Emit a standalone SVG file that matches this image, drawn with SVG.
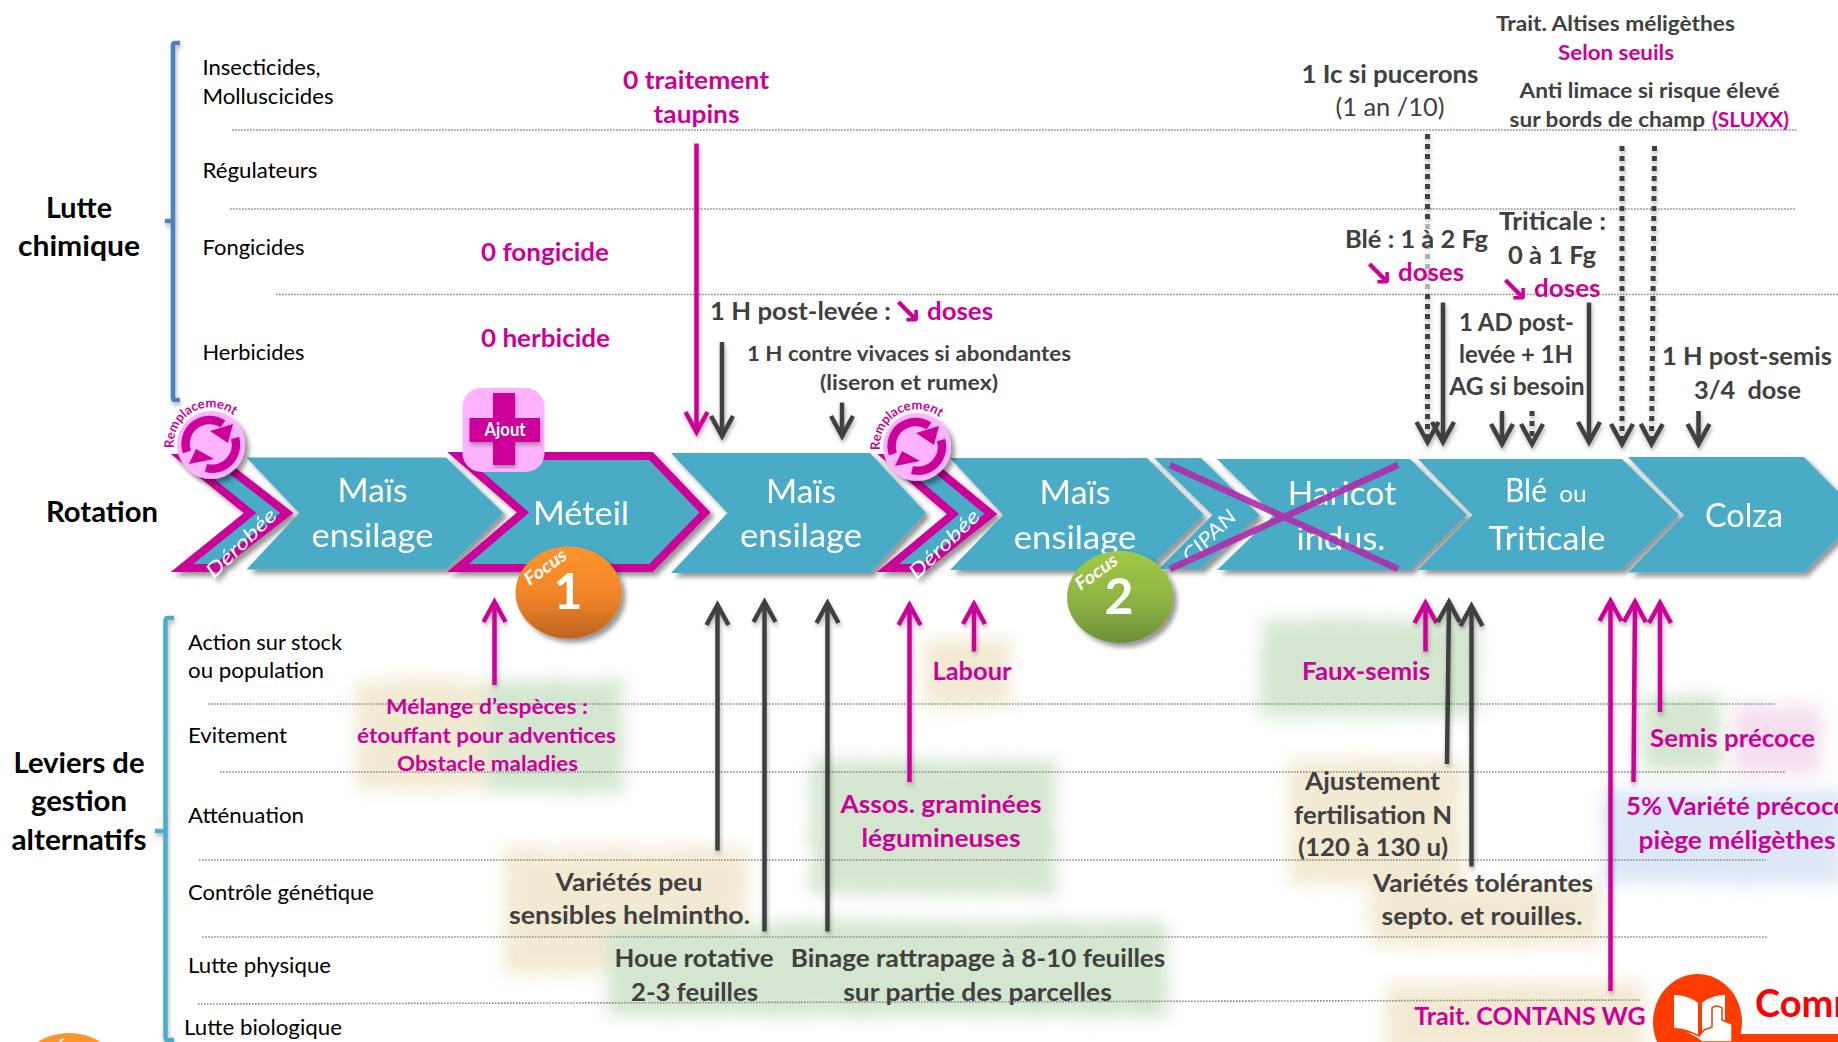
<svg xmlns="http://www.w3.org/2000/svg" xmlns:xlink="http://www.w3.org/1999/xlink" width="1838" height="1042" viewBox="0 0 1838 1042">
<style>
text{font-family:"Lato","Carlito","Open Sans",sans-serif}
.lab{font-size:21.6px;fill:#000}
.head{font-size:28px;font-weight:700;fill:#000;text-anchor:middle}
.d{font-weight:700;fill:#404040;text-anchor:middle}
.m{font-weight:700;fill:#cc0099;text-anchor:middle}
.s{font-size:21.6px}.l{font-size:25px}
.st{text-anchor:start}
.w{fill:#fff;font-size:33px;text-anchor:middle}
.sym{font-family:"DejaVu Sans",sans-serif;font-weight:700;fill:#cc0099;font-size:36px;text-anchor:start}
.it{fill:#fff;font-style:italic;font-size:20px;font-weight:400;text-anchor:middle}
.fo{fill:#fff;font-style:italic;font-weight:700;font-size:18px;text-anchor:middle}
.num{fill:#fff;font-weight:700;font-size:50px;text-anchor:middle}
.chev{fill:#4aabc6}
.chevm{fill:#4aabc6;stroke:#cc0099;stroke-width:8;stroke-linejoin:miter;stroke-miterlimit:10}
.dot{stroke:#8a8a8a;stroke-width:1.6;stroke-dasharray:1.6 1.4;fill:none}
.am{stroke:#cc0099;stroke-width:4.5;fill:none;marker-end:url(#hm)}
.ak{stroke:#404040;stroke-width:4.5;fill:none;marker-end:url(#hk)}
.ad{stroke:#404040;stroke-width:5;stroke-dasharray:5 5;fill:none;marker-end:url(#hk)}
.tan{fill:#efe4c6}.gre{fill:#c8e0c2}.pin{fill:#f3d5ea}.blu{fill:#d3e1f5}
</style>
<defs>
<marker id="hm" markerUnits="userSpaceOnUse" markerWidth="34" markerHeight="34" refX="24" refY="14" orient="auto"><path d="M4 3 L24 14 L4 25" fill="none" stroke="#cc0099" stroke-width="4.5"/></marker>
<marker id="hk" markerUnits="userSpaceOnUse" markerWidth="34" markerHeight="34" refX="24" refY="14" orient="auto"><path d="M4 3 L24 14 L4 25" fill="none" stroke="#404040" stroke-width="4.5"/></marker>
<filter id="sh" x="-20%" y="-20%" width="140%" height="140%"><feDropShadow dx="4" dy="4" stdDeviation="2.5" flood-color="#000" flood-opacity=".42"/></filter>
<filter id="sa" x="-50%" y="-5%" width="200%" height="110%"><feDropShadow dx="1" dy="3" stdDeviation="2" flood-color="#000" flood-opacity=".3"/></filter>
<filter id="br" x="-15%" y="-20%" width="130%" height="140%"><feTurbulence type="fractalNoise" baseFrequency=".12" numOctaves="3" seed="4"/><feDisplacementMap in="SourceGraphic" scale="22" xChannelSelector="R" yChannelSelector="G"/><feGaussianBlur stdDeviation="8"/></filter>
<linearGradient id="gO" x1="0" y1="0" x2="0" y2="1"><stop offset="0" stop-color="#ff942f"/><stop offset=".55" stop-color="#f08527"/><stop offset="1" stop-color="#bd6320"/></linearGradient>
<linearGradient id="gG" x1="0" y1="0" x2="0" y2="1"><stop offset="0" stop-color="#a0ca47"/><stop offset=".55" stop-color="#8fb243"/><stop offset="1" stop-color="#6d8f39"/></linearGradient>
<path id="arcR" d="M-37 3 A37 37 0 0 1 30 -22"/>
</defs>

<g id="highlights" filter="url(#br)" opacity=".78">
<rect class="tan" x="356" y="680" width="136" height="110"/>
<rect class="gre" x="487" y="680" width="136" height="112"/>
<rect class="tan" x="503" y="848" width="244" height="126"/>
<rect class="gre" x="608" y="926" width="168" height="90"/>
<rect class="gre" x="768" y="921" width="399" height="96"/>
<rect class="gre" x="811" y="760" width="244" height="134"/>
<rect class="tan" x="924" y="640" width="86" height="67"/>
<rect class="gre" x="1261" y="620" width="216" height="96"/>
<rect class="tan" x="1289" y="760" width="174" height="124"/>
<rect class="tan" x="1368" y="884" width="232" height="62"/>
<rect class="gre" x="1644" y="696" width="76" height="74"/>
<rect class="pin" x="1734" y="706" width="88" height="68"/>
<rect class="blu" x="1603" y="790" width="240" height="94"/>
<rect class="tan" x="1385" y="983" width="259" height="72"/>
</g>

<g id="gridlines">
<line class="dot" x1="232" y1="130" x2="1798" y2="130"/>
<line class="dot" x1="230" y1="209" x2="1795" y2="209"/>
<line class="dot" x1="276" y1="294.5" x2="1838" y2="294.5"/>
<line class="dot" x1="208" y1="704" x2="1775" y2="704"/>
<line class="dot" x1="220" y1="772" x2="1785" y2="772"/>
<line class="dot" x1="199" y1="860" x2="1766" y2="860"/>
<line class="dot" x1="202" y1="937" x2="1767" y2="937"/>
<line class="dot" x1="198" y1="1004" x2="1640" y2="1000"/>
</g>

<g id="bracket-chimique" filter="url(#sa)"><path d="M180 43 H175 Q173 43 173 45 V398 Q173 400 175 400 H180 M173 221 H165" fill="none" stroke="#4f81bd" stroke-width="4.5"/></g>
<g id="bracket-leviers" filter="url(#sa)"><path d="M174 618 H168 Q165.500 618 165.500 621 V1037 Q165.500 1040 168 1040 H174 M165.500 831 H155" fill="none" stroke="#4bacc6" stroke-width="4.5"/></g>

<g id="row-labels">
<text class="lab" x="202.500" y="75" textLength="118" lengthAdjust="spacingAndGlyphs">Insecticides,</text>
<text class="lab" x="202.500" y="104" textLength="131" lengthAdjust="spacingAndGlyphs">Molluscicides</text>
<text class="lab" x="202.500" y="178" textLength="115" lengthAdjust="spacingAndGlyphs">Régulateurs</text>
<text class="lab" x="202.500" y="255" textLength="102" lengthAdjust="spacingAndGlyphs">Fongicides</text>
<text class="lab" x="202.500" y="360" textLength="102" lengthAdjust="spacingAndGlyphs">Herbicides</text>
<text class="lab" x="188" y="650" textLength="154" lengthAdjust="spacingAndGlyphs">Action sur stock</text>
<text class="lab" x="188" y="678" textLength="136" lengthAdjust="spacingAndGlyphs">ou population</text>
<text class="lab" x="188" y="743" textLength="99" lengthAdjust="spacingAndGlyphs">Evitement</text>
<text class="lab" x="188" y="823" textLength="116" lengthAdjust="spacingAndGlyphs">Atténuation</text>
<text class="lab" x="188" y="900" textLength="186" lengthAdjust="spacingAndGlyphs">Contrôle génétique</text>
<text class="lab" x="188" y="973" textLength="143" lengthAdjust="spacingAndGlyphs">Lutte physique</text>
<text class="lab" x="184" y="1035" textLength="158" lengthAdjust="spacingAndGlyphs">Lutte biologique</text>
<text class="head" x="79" y="218" textLength="66" lengthAdjust="spacingAndGlyphs">Lutte</text>
<text class="head" x="79" y="256" textLength="122" lengthAdjust="spacingAndGlyphs">chimique</text>
<text class="head" x="102" y="522" textLength="112" lengthAdjust="spacingAndGlyphs">Rotation</text>
<text class="head" x="79" y="773" textLength="131" lengthAdjust="spacingAndGlyphs">Leviers de</text>
<text class="head" x="79" y="811" textLength="96" lengthAdjust="spacingAndGlyphs">gestion</text>
<text class="head" x="79" y="850" textLength="135" lengthAdjust="spacingAndGlyphs">alternatifs</text>
</g>

<g id="chev-derobee1" filter="url(#sh)"><polygon class="chevm" points="182,458 216,458 287,513 216,568 182,568 250,513"/><text class="it" transform="translate(246 548) rotate(-44)" textLength="90" lengthAdjust="spacingAndGlyphs">Dérobée</text></g>
<g id="chev-mais1" filter="url(#sh)"><polygon class="chev" points="246.500,457.500 446,457.500 503.500,513 446,569.500 246.500,569.500 299,513"/><text class="w" x="372.500" y="502" textLength="70" lengthAdjust="spacingAndGlyphs">Maïs</text><text class="w" x="372.500" y="547" textLength="122" lengthAdjust="spacingAndGlyphs">ensilage</text></g>
<g id="chev-meteil" filter="url(#sh)"><polygon class="chevm" points="458,456 651,456 705,512.500 651,568 458,568 523,512.500"/><text class="w" x="581" y="525" textLength="96" lengthAdjust="spacingAndGlyphs">Méteil</text></g>
<g id="chev-mais2" filter="url(#sh)"><polygon class="chev" points="671,453 870,453 926,513 870,573 671,573 727.500,513"/><text class="w" x="801" y="503" textLength="70" lengthAdjust="spacingAndGlyphs">Maïs</text><text class="w" x="801" y="547" textLength="122" lengthAdjust="spacingAndGlyphs">ensilage</text></g>
<g id="chev-derobee2" filter="url(#sh)"><polygon class="chevm" points="888,458 923,458 991,514 923,568 888,568 953,514"/><text class="it" transform="translate(949 549) rotate(-44)" textLength="90" lengthAdjust="spacingAndGlyphs">Dérobée</text></g>
<g id="chev-mais3" filter="url(#sh)"><polygon class="chev" points="950,458 1147,458 1204,515 1147,570 950,570 1003,515"/><text class="w" x="1075" y="504" textLength="71" lengthAdjust="spacingAndGlyphs">Maïs</text><text class="w" x="1075" y="549" textLength="122.500" lengthAdjust="spacingAndGlyphs">ensilage</text></g>
<g id="chev-cipan" filter="url(#sh)"><polygon class="chev" points="1154,458 1201,458 1259.500,515 1201,569 1158.500,569 1212.500,515"/><text class="it" transform="translate(1214 541) rotate(-44)" textLength="66" lengthAdjust="spacingAndGlyphs">CIPAN</text></g>
<g id="chev-haricot" filter="url(#sh)"><polygon class="chev" points="1217,459 1410,459 1467,515 1410,570 1217,570 1274,515"/><text class="w" x="1342" y="505" textLength="108.500" lengthAdjust="spacingAndGlyphs">Haricot</text><text class="w" x="1341" y="549.500" textLength="89" lengthAdjust="spacingAndGlyphs">indus.</text></g>
<g id="chev-ble" filter="url(#sh)"><polygon class="chev" points="1418,459 1622,459 1679,515 1622,570 1418,570 1472.500,515"/><text class="w" x="1526" y="502" textLength="42" lengthAdjust="spacingAndGlyphs">Blé</text><text class="w" style="font-size:24px" x="1573" y="502" textLength="27.500" lengthAdjust="spacingAndGlyphs">ou</text><text class="w" x="1547" y="549.500" textLength="117" lengthAdjust="spacingAndGlyphs">Triticale</text></g>
<g id="chev-colza" filter="url(#sh)"><polygon class="chev" points="1628,457 1804,457 1861,515 1804,572.500 1628,572.500 1684,515"/><text class="w" x="1744" y="526.500" textLength="78" lengthAdjust="spacingAndGlyphs">Colza</text></g>

<g id="cross-haricot"><path d="M1170 465 L1398 569 M1398 465 L1170 569" stroke="#b02aa8" stroke-opacity=".9" stroke-width="6.500" fill="none"/></g>

<g id="badge-remplacement1" transform="translate(211 445)">
<circle r="34" fill="#ffb3ff" filter="url(#sh)"/>
<path d="M-24 7 A24 24 0 0 1 12 -21 M24 -7 A24 24 0 0 1 -5 23" fill="none" stroke="#cc0099" stroke-width="8.500"/>
<polygon points="-1,-14 22,-21 17,-2" fill="#cc0099"/><polygon points="3,14 -22,19 -15,4" fill="#cc0099"/>
<text style="font-size:13px;font-weight:700;fill:#cc0099"><textPath href="#arcR" textLength="86" lengthAdjust="spacingAndGlyphs">Remplacement</textPath></text>
</g>
<g id="badge-remplacement2" transform="translate(917 447)">
<circle r="34" fill="#ffb3ff" filter="url(#sh)"/>
<path d="M-24 7 A24 24 0 0 1 12 -21 M24 -7 A24 24 0 0 1 -5 23" fill="none" stroke="#cc0099" stroke-width="8.500"/>
<polygon points="-1,-14 22,-21 17,-2" fill="#cc0099"/><polygon points="3,14 -22,19 -15,4" fill="#cc0099"/>
<text style="font-size:13px;font-weight:700;fill:#cc0099"><textPath href="#arcR" textLength="86" lengthAdjust="spacingAndGlyphs">Remplacement</textPath></text>
</g>

<g id="badge-ajout">
<rect x="462.500" y="388" width="82" height="84" rx="19" fill="#ffb3ff"/>
<path d="M493 393 H515 V418 H540 V442 H515 V465 H493 V442 H469.500 V418 H493 Z" fill="#cc0099" filter="url(#sa)"/>
<text x="505" y="436" style="font-size:18px;font-weight:700;fill:#fff;text-anchor:middle" textLength="41" lengthAdjust="spacingAndGlyphs">Ajout</text>
</g>

<g id="focus1"><ellipse cx="568.500" cy="592.500" rx="53" ry="46" fill="url(#gO)" filter="url(#sh)"/><text class="fo" transform="translate(549 572) rotate(-36)" textLength="48" lengthAdjust="spacingAndGlyphs">Focus</text><text class="num" x="568" y="609">1</text></g>
<g id="focus2"><ellipse cx="1120" cy="597" rx="53" ry="46" fill="url(#gG)" filter="url(#sh)"/><text class="fo" transform="translate(1100 577) rotate(-36)" textLength="48" lengthAdjust="spacingAndGlyphs">Focus</text><text class="num" x="1119" y="614">2</text></g>
<g id="focus3"><ellipse cx="69" cy="1079" rx="53" ry="46" fill="#ff942f"/><text class="fo" transform="translate(50 1059) rotate(-36)" textLength="48" lengthAdjust="spacingAndGlyphs">Focus</text></g>

<g id="connectors" filter="url(#sa)">
<path class="am" d="M696.500 143.500 V432"/>
<path class="ak" d="M722 342 V436"/>
<path class="ak" d="M842 402.500 V436"/>
<path class="ad" d="M1427.500 134 V442"/>
<path class="ak" d="M1443 302.500 V442"/>
<path class="ak" d="M1502 411 V444"/>
<path class="ad" d="M1532 411 V444"/>
<path class="ak" d="M1589 302.500 V442"/>
<path class="ad" d="M1622 146 V444"/>
<path class="ad" d="M1654.500 146 L1651.500 444"/>
<path class="ak" d="M1698.500 411 V444"/>
<path class="am" d="M494.500 685 V602"/>
<path class="ak" d="M717.500 850.500 V605"/>
<path class="ak" d="M764.500 931.500 V602"/>
<path class="ak" d="M827.500 931.500 V603"/>
<path class="am" d="M909.500 782 V605"/>
<path class="am" d="M974 651.500 V604"/>
<path class="am" d="M1425.500 651.500 V603"/>
<path class="ak" d="M1447 764 L1449 602"/>
<path class="ak" d="M1471.500 866.500 V606"/>
<path class="am" d="M1610.500 991 V601"/>
<path class="am" d="M1633.500 782 L1635 602"/>
<path class="am" d="M1660 712 V603"/>
</g>
<rect id="haze" x="1419" y="222" width="17" height="70" fill="#fff" opacity=".6"/>

<g id="notes-chimie">
<text class="m l" x="696" y="89" textLength="146" lengthAdjust="spacingAndGlyphs">0 traitement</text>
<text class="m l" x="696.500" y="122.500" textLength="86" lengthAdjust="spacingAndGlyphs">taupins</text>
<text class="m l" x="545" y="261" textLength="128" lengthAdjust="spacingAndGlyphs">0 fongicide</text>
<text class="m l" x="545.500" y="347" textLength="129" lengthAdjust="spacingAndGlyphs">0 herbicide</text>
<text class="d l st" x="710" y="319.500" textLength="181" lengthAdjust="spacingAndGlyphs">1 H post-levée :</text>
<text class="sym" x="892" y="324">↘</text>
<text class="m l st" x="927" y="319.500" textLength="66" lengthAdjust="spacingAndGlyphs">doses</text>
<text class="d s" x="909" y="361" textLength="324" lengthAdjust="spacingAndGlyphs">1 H contre vivaces si abondantes</text>
<text class="d s" x="909" y="390" textLength="178" lengthAdjust="spacingAndGlyphs">(liseron et rumex)</text>
<text class="d s" x="1615.500" y="31" textLength="239" lengthAdjust="spacingAndGlyphs">Trait. Altises méligèthes</text>
<text class="m s" x="1616" y="60" textLength="116" lengthAdjust="spacingAndGlyphs">Selon seuils</text>
<text class="d s" x="1649.500" y="98" textLength="260" lengthAdjust="spacingAndGlyphs">Anti limace si risque élevé</text>
<text class="d s st" x="1509.500" y="126.500" textLength="195.500" lengthAdjust="spacingAndGlyphs">sur bords de champ</text>
<text class="m s st" x="1712" y="126.500" textLength="77" lengthAdjust="spacingAndGlyphs">(SLUXX)</text>
<text class="d l" x="1390" y="83" textLength="177" lengthAdjust="spacingAndGlyphs">1 Ic si pucerons</text>
<text class="l" style="fill:#404040;text-anchor:middle" x="1390" y="116" textLength="109" lengthAdjust="spacingAndGlyphs">(1 an /10)</text>
<text class="d l" x="1416.500" y="248" textLength="143" lengthAdjust="spacingAndGlyphs">Blé : 1 à 2 Fg</text>
<text class="sym" x="1363" y="286">↘</text>
<text class="m l st" x="1398" y="281" textLength="66" lengthAdjust="spacingAndGlyphs">doses</text>
<text class="d l" x="1552.500" y="230" textLength="107" lengthAdjust="spacingAndGlyphs">Triticale :</text>
<text class="d l" x="1552" y="264" textLength="88" lengthAdjust="spacingAndGlyphs">0 à 1 Fg</text>
<text class="sym" x="1499" y="302">↘</text>
<text class="m l st" x="1534" y="297" textLength="66.500" lengthAdjust="spacingAndGlyphs">doses</text>
<text class="d l" x="1516.500" y="331" textLength="115" lengthAdjust="spacingAndGlyphs">1 AD post-</text>
<text class="d l" x="1516" y="363" textLength="114" lengthAdjust="spacingAndGlyphs">levée + 1H</text>
<text class="d l" x="1517" y="394.500" textLength="135.500" lengthAdjust="spacingAndGlyphs">AG si besoin</text>
<text class="d l" x="1747" y="364.500" textLength="170" lengthAdjust="spacingAndGlyphs">1 H post-semis</text>
<text class="d l" x="1747.500" y="398.500" textLength="107" lengthAdjust="spacingAndGlyphs" xml:space="preserve">3/4  dose</text>
</g>

<g id="notes-leviers">
<text class="m s" x="487" y="714" textLength="202" lengthAdjust="spacingAndGlyphs">Mélange d’espèces :</text>
<text class="m s" x="486.500" y="742.500" textLength="259" lengthAdjust="spacingAndGlyphs">étouffant pour adventices</text>
<text class="m s" x="487.500" y="770.500" textLength="181" lengthAdjust="spacingAndGlyphs">Obstacle maladies</text>
<text class="m l" x="941" y="812.500" textLength="201" lengthAdjust="spacingAndGlyphs">Assos. graminées</text>
<text class="m l" x="941" y="846.500" textLength="159" lengthAdjust="spacingAndGlyphs">légumineuses</text>
<text class="m l" x="972" y="679.500" textLength="79" lengthAdjust="spacingAndGlyphs">Labour</text>
<text class="m l" x="1366" y="679.500" textLength="128" lengthAdjust="spacingAndGlyphs">Faux-semis</text>
<text class="m l" x="1732.500" y="747" textLength="165" lengthAdjust="spacingAndGlyphs">Semis précoce</text>
<text class="m l st" x="1626" y="814.500" textLength="221" lengthAdjust="spacingAndGlyphs">5% Variété précoce</text>
<text class="m l" x="1737" y="848.500" textLength="197" lengthAdjust="spacingAndGlyphs">piège méligèthes</text>
<text class="d l" x="1372.500" y="790" textLength="135" lengthAdjust="spacingAndGlyphs">Ajustement</text>
<text class="d l" x="1373" y="823.500" textLength="158" lengthAdjust="spacingAndGlyphs">fertilisation N</text>
<text class="d l" x="1373" y="856" textLength="150" lengthAdjust="spacingAndGlyphs">(120 à 130 u)</text>
<text class="d l" x="1483" y="891.500" textLength="220" lengthAdjust="spacingAndGlyphs">Variétés tolérantes</text>
<text class="d l" x="1482" y="925" textLength="201" lengthAdjust="spacingAndGlyphs">septo. et rouilles.</text>
<text class="d l" x="629" y="890.500" textLength="147" lengthAdjust="spacingAndGlyphs">Variétés peu</text>
<text class="d l" x="629.500" y="924" textLength="241" lengthAdjust="spacingAndGlyphs">sensibles helmintho.</text>
<text class="d l" x="694" y="966.500" textLength="159" lengthAdjust="spacingAndGlyphs">Houe rotative</text>
<text class="d l" x="694.500" y="1000.500" textLength="127" lengthAdjust="spacingAndGlyphs">2-3 feuilles</text>
<text class="d l" x="978" y="966.500" textLength="374.500" lengthAdjust="spacingAndGlyphs">Binage rattrapage à 8-10 feuilles</text>
<text class="d l" x="977.500" y="1000.500" textLength="268.500" lengthAdjust="spacingAndGlyphs">sur partie des parcelles</text>
<text class="m l" x="1530" y="1024.500" textLength="231.500" lengthAdjust="spacingAndGlyphs">Trait. CONTANS WG</text>
</g>

<g id="commentaire">
<polygon points="1737,1034 1838,1034 1838,1042 1737,1042" fill="#ff3c00"/>
<ellipse cx="1697.500" cy="1022" rx="44.500" ry="48" fill="#ff3c00"/>
<path d="M1674 995 Q1688 995 1698 1003 V1036 Q1688 1028 1674 1028 Z M1702 1003 Q1712 995 1725 995 V1025 L1702 1033 Z" fill="#fff"/>
<path d="M1674 1030 Q1690 1032 1702 1042 H1732 V1024 L1722 1020 V1008 Q1716 1004 1712 1008 V1027 L1704 1030 L1699 1036 Q1688 1030 1674 1030 Z" fill="#fff" stroke="#ff3c00" stroke-width="1.500"/>
<text x="1755" y="1017" style="font-size:38px;font-weight:700;fill:#ff0000">Comm</text>
</g>
</svg>
